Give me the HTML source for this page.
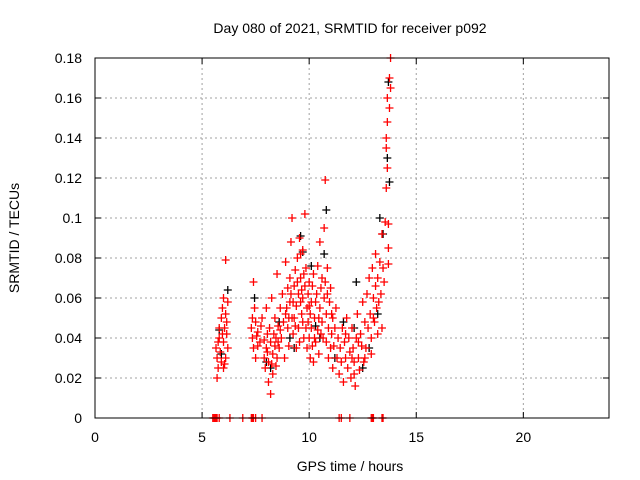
<!DOCTYPE html>
<html><head><meta charset="utf-8"><style>
body{margin:0;background:#fff}
svg{display:block;font-family:"Liberation Sans",sans-serif}
</style></head><body>
<svg id="c" width="640" height="480">
<text x="350" y="33" font-size="14" text-anchor="middle">Day 080 of 2021, SRMTID for receiver p092</text>
<text x="350" y="471" font-size="14" text-anchor="middle">GPS time / hours</text>
<text x="19" y="238" font-size="14" text-anchor="middle" transform="rotate(-90 19 238)">SRMTID / TECUs</text>
<g id="grid"></g><g id="ticks"></g><g id="black"></g><g id="red"></g>
<rect x="95" y="58" width="514" height="360" fill="none" stroke="#000" stroke-width="1"/>
</svg>
<script>
const xTicks=[0,5,10,15,20];
const yTicks=[0,0.02,0.04,0.06,0.08,0.1,0.12,0.14,0.16,0.18];
const yTickLabels=["0","0.02","0.04","0.06","0.08","0.1","0.12","0.14","0.16","0.18"];
const redPoints=[[5.65,0.035],[5.7,0.03],[5.75,0.025],[5.7,0.02],[5.8,0.045],[5.8,0.04],[5.85,0.033],[5.9,0.028],[5.9,0.05],[5.95,0.055],[6.0,0.06],[6.0,0.038],[6.05,0.045],[6.05,0.027],[6.1,0.052],[6.1,0.079],[6.15,0.042],[6.2,0.058],[6.2,0.035],[6.1,0.03],[5.95,0.042],[6.0,0.025],[5.75,0.038],[6.15,0.048],
[7.3,0.045],[7.35,0.04],[7.4,0.035],[7.4,0.068],[7.45,0.055],[7.5,0.03],[7.5,0.048],[7.6,0.043],[7.7,0.038],[7.8,0.05],[7.9,0.03],[7.95,0.025],[8.0,0.035],[8.0,0.055],[8.05,0.042],[8.1,0.018],[8.1,0.028],[8.15,0.045],[8.2,0.012],[8.2,0.038],[8.25,0.06],[8.3,0.032],[8.3,0.022],[8.4,0.05],[8.45,0.04],[8.5,0.072],[8.5,0.03],[8.55,0.046],[8.6,0.035],[8.65,0.055],[8.35,0.042],[8.45,0.026],[7.6,0.036],[7.75,0.046],[7.35,0.05],[7.55,0.041],[7.9,0.039],[8.05,0.033],[8.25,0.027],[8.4,0.036],[8.55,0.038],[8.65,0.044],
[8.7,0.04],[8.75,0.062],[8.8,0.048],[8.85,0.03],[8.9,0.078],[8.95,0.055],[9.0,0.065],[9.0,0.045],[9.05,0.036],[9.1,0.07],[9.1,0.058],[9.15,0.088],[9.2,0.05],[9.2,0.1],[9.25,0.042],[9.3,0.066],[9.35,0.074],[9.4,0.035],[9.4,0.056],[9.45,0.08],[9.5,0.062],[9.5,0.045],[9.55,0.09],[9.6,0.082],[9.6,0.07],[9.65,0.052],[9.7,0.084],[9.7,0.06],[9.75,0.04],[9.8,0.102],[9.8,0.066],[9.85,0.075],[9.9,0.055],[9.9,0.035],[9.95,0.048],[10.0,0.068],[10.0,0.04],[10.05,0.03],[10.1,0.058],[10.1,0.045],[10.15,0.036],[10.2,0.072],[10.2,0.028],[10.25,0.05],[10.3,0.038],[10.35,0.062],[10.4,0.044],[10.4,0.076],[10.45,0.032],[10.5,0.055],[10.5,0.088],[10.55,0.065],[10.6,0.048],[10.6,0.07],[10.65,0.04],[10.7,0.095],[10.7,0.06],[10.75,0.119],[10.8,0.052],[10.8,0.038],[10.85,0.075],[10.9,0.045],[10.9,0.03],[10.95,0.058],[11.0,0.035],[11.0,0.065],[11.05,0.042],[11.1,0.025],[11.1,0.05],[11.15,0.036],[11.2,0.045],[11.25,0.055],[11.3,0.03],[11.35,0.04],
[9.3,0.05],[9.55,0.038],[9.65,0.064],[9.85,0.045],[10.05,0.052],[10.3,0.058],[8.9,0.052],[9.15,0.062],[9.75,0.072],[10.15,0.066],[10.45,0.05],[10.75,0.068],[9.45,0.068],[9.05,0.05],[9.25,0.058],[9.35,0.046],[9.6,0.058],[9.95,0.062],[10.25,0.04],[10.55,0.042],[10.85,0.062],[11.05,0.052],[9.7,0.048],[10.0,0.056],
[11.4,0.022],[11.45,0.035],[11.5,0.028],[11.55,0.045],[11.6,0.018],[11.65,0.038],[11.7,0.03],[11.75,0.05],[11.8,0.025],[11.85,0.04],[11.9,0.033],[11.95,0.02],[12.0,0.045],[12.05,0.035],[12.1,0.028],[12.15,0.016],[12.2,0.04],[12.25,0.052],[12.3,0.03],[12.35,0.024],[12.4,0.042],[12.45,0.036],[12.5,0.058],[12.55,0.028],[12.6,0.048],[12.65,0.035],[12.7,0.062],[12.75,0.045],[12.8,0.07],[12.85,0.052],[12.9,0.04],[12.95,0.075],[13.0,0.06],[13.05,0.048],[13.1,0.082],[13.1,0.066],[13.15,0.055],[13.2,0.07],[13.25,0.058],[13.3,0.078],[13.35,0.062],[13.4,0.045],[13.4,0.092],[13.45,0.075],[13.5,0.068],[13.55,0.098],[13.6,0.115],[13.6,0.135],[13.65,0.148],[13.65,0.16],[13.7,0.097],[13.7,0.085],[13.75,0.155],[13.75,0.17],[13.8,0.18],[13.8,0.165],[13.7,0.077],[13.65,0.125],[13.6,0.14],[12.0,0.03],[12.3,0.038],[12.6,0.03],[12.9,0.032],[13.2,0.042],[11.7,0.042],[12.1,0.022],[13.0,0.05],
[5.5,0],[5.55,0],[5.6,0],[5.65,0],[5.7,0],[5.8,0],[6.3,0],[6.9,0],[7.3,0],[7.35,0],[7.4,0],[7.5,0],[7.8,0],[11.4,0],[11.5,0],[11.9,0],[12.9,0],[12.95,0],[13.0,0],[13.4,0],[13.45,0]];
const blackPoints=[[5.8,0.044],[6.2,0.064],[5.9,0.032],[7.45,0.06],[8.2,0.025],[8.6,0.048],[9.1,0.04],[9.6,0.091],[9.7,0.083],[10.1,0.076],[10.3,0.046],[10.7,0.082],[10.8,0.104],[11.2,0.03],[11.6,0.048],[12.2,0.068],[12.5,0.025],[12.8,0.035],[13.2,0.052],[13.3,0.1],[13.45,0.092],[13.7,0.168],[13.65,0.13],[13.75,0.118],[10.5,0.04],[9.3,0.035],[8.0,0.028],[12.1,0.045]];
const X=t=>95+t*(514/24), Y=v=>418-v*2000;
const NS="http://www.w3.org/2000/svg";
function mk(tag,attrs,parent){const e=document.createElementNS(NS,tag);for(const k in attrs)e.setAttribute(k,attrs[k]);parent.appendChild(e);return e;}
const grid=document.getElementById('grid'),ticks=document.getElementById('ticks');
xTicks.forEach(t=>{
  if(t>0){const g=mk('line',{x1:X(t),x2:X(t),y1:58,y2:418,stroke:'#a0a0a0','stroke-dasharray':'2,3'},grid);
  
  }
  mk('line',{x1:X(t),x2:X(t),y1:418,y2:412,stroke:'#000'},ticks);
  mk('line',{x1:X(t),x2:X(t),y1:58,y2:64,stroke:'#000'},ticks);
  const l=mk('text',{x:X(t),y:442,'font-size':14,'text-anchor':'middle'},ticks);l.textContent=t;
  
  
});
yTicks.forEach((v,i)=>{
  if(v>0&&v<0.18){const g=mk('line',{x1:95,x2:609,y1:Y(v),y2:Y(v),stroke:'#a0a0a0','stroke-dasharray':'2,3'},grid);
  
  }
  mk('line',{x1:95,x2:101,y1:Y(v),y2:Y(v),stroke:'#000'},ticks);
  mk('line',{x1:603,x2:609,y1:Y(v),y2:Y(v),stroke:'#000'},ticks);
  const l=mk('text',{x:82,y:Y(v)+5,'font-size':14,'text-anchor':'end'},ticks);l.textContent=yTickLabels[i];
  
  
});
function plot(pts,col,gid,name){const g=document.getElementById(gid);
  pts.forEach(p=>{const x=X(p[0]),y=Y(p[1]);
    const e=mk('path',{d:`M${x-4},${y}h8M${x},${y-4}v8`,stroke:col,'stroke-width':1.3,fill:'none'},g);
    
    
  });}
plot(blackPoints,'#000','black','black-point');
plot(redPoints,'#ff0000','red','red-point');
</script>
</body></html>
